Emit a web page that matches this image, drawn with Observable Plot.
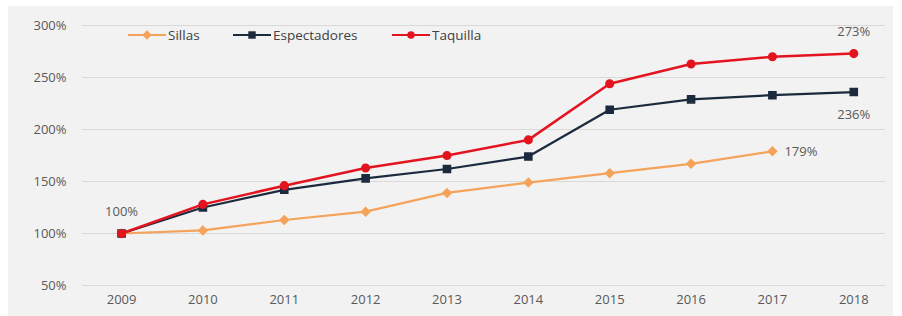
<!DOCTYPE html>
<html>
<head>
<meta charset="utf-8">
<script src="https://cdn.jsdelivr.net/npm/d3@7"></script>
<script src="https://cdn.jsdelivr.net/npm/@observablehq/plot@0.6"></script>
<style>
  html, body { margin: 0; padding: 0; background: #ffffff; }
  #wrap { position: relative; width: 902px; height: 316px; overflow: hidden; background: #ffffff; }
  #panel { position: absolute; left: 8px; top: 6px; width: 885px; height: 310px; background: #f2f2f2; }
  #wrap svg.plot { position: absolute; left: 0; top: 0; }
  .legend { position: absolute; top: 0; left: 0; font-family: "Open Sans", sans-serif; font-size: 13.5px; color: #404040; }
  .legend .item { position: absolute; top: 26px; display: flex; align-items: center; white-space: nowrap; }
  .legend svg { margin-right: 2px; }
</style>
</head>
<body>
<div id="wrap"><div id="panel"></div></div>
<script>
const years = [2009, 2010, 2011, 2012, 2013, 2014, 2015, 2016, 2017, 2018];
const sillas = [100, 103, 113, 121, 139, 149, 158, 167, 179, null];
const espectadores = [100, 125, 142, 153, 162, 174, 219, 229, 233, 236];
const taquilla = [100, 128, 146, 163, 175, 190, 244, 263, 270, 273];
const seriesNames = ["Sillas", "Espectadores", "Taquilla"];
const seriesColors = ["#f5a35a", "#1c2a3e", "#e3141f"];
const seriesSymbols = ["diamond2", "square", "circle"];
const yTicks = [50, 100, 150, 200, 250, 300];

const rows = [];
[sillas, espectadores, taquilla].forEach((vals, i) => {
  vals.forEach((v, j) => { if (v != null) rows.push({ serie: seriesNames[i], year: years[j], value: v }); });
});
const labels = [
  { year: 2009, value: 100, text: "100%", dx: 0, dy: -22, anchor: "middle" },
  { year: 2018, value: 273, text: "273%", dx: 0, dy: -22, anchor: "middle" },
  { year: 2018, value: 236, text: "236%", dx: 0, dy: 23, anchor: "middle" },
  { year: 2017, value: 179, text: "179%", dx: 12, dy: 0, anchor: "start" }
];

const font = '"Open Sans", sans-serif';
const txt = "#595959";

const marks = [
  Plot.ruleY(yTicks, { stroke: "#d9d9d9", strokeWidth: 1 }),
  Plot.axisY({ ticks: yTicks, tickFormat: d => d + "%", tickSize: 0, tickPadding: 16, label: null, fill: txt, fontSize: 13 }),
  Plot.axisX({ ticks: years, tickFormat: d => String(d), tickSize: 0, tickPadding: 9, label: null, fill: txt, fontSize: 13 })
];
seriesNames.forEach((name, i) => {
  const data = rows.filter(r => r.serie === name);
  marks.push(Plot.line(data, { x: "year", y: "value", stroke: seriesColors[i], strokeWidth: i === 2 ? 2.5 : 2.2 }));
  marks.push(Plot.dot(data, { x: "year", y: "value", fill: seriesColors[i], stroke: seriesColors[i], symbol: seriesSymbols[i], r: i === 1 ? 4 : 3.8 }));
});
labels.forEach(l => {
  marks.push(Plot.text([l], { x: "year", y: "value", text: "text", dx: l.dx, dy: l.dy, textAnchor: l.anchor, fill: txt, fontSize: 13 }));
});

const chart = Plot.plot({
  width: 902,
  height: 316,
  marginLeft: 82,
  marginRight: 17,
  marginTop: 25,
  marginBottom: 31,
  style: { background: "transparent", fontFamily: font, fontSize: "13px", color: txt },
  x: { type: "linear", domain: [2008.52, 2018.39] },
  y: { domain: [50, 300] },
  marks
});
chart.classList.add("plot");
const wrap = document.getElementById("wrap");
wrap.appendChild(chart);

// legend overlay
const legend = document.createElement("div");
legend.className = "legend";
const lefts = [128, 233, 392];
seriesNames.forEach((name, i) => {
  const item = document.createElement("div");
  item.className = "item";
  item.style.left = lefts[i] + "px";
  let shape;
  if (i === 0) shape = d3.symbol(d3.symbolDiamond2, 60)();
  else if (i === 1) shape = d3.symbol(d3.symbolSquare, 55)();
  else shape = d3.symbol(d3.symbolCircle, 45)();
  item.innerHTML = `<svg width="38" height="12"><line x1="0" x2="38" y1="6" y2="6" stroke="${seriesColors[i]}" stroke-width="2.2"/><path d="${shape}" transform="translate(19,6)" fill="${seriesColors[i]}"/></svg><span>${name}</span>`;
  legend.appendChild(item);
});
wrap.appendChild(legend);
</script>
</body>
</html>
